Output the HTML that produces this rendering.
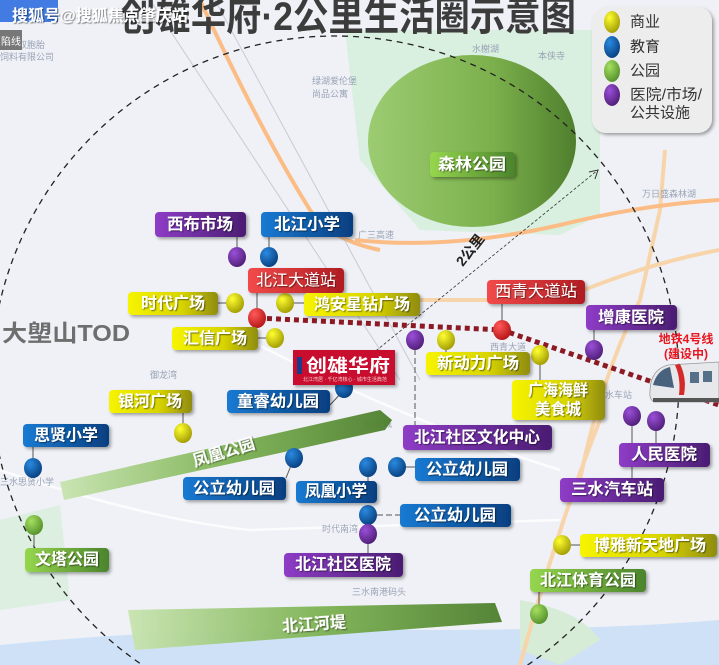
<!DOCTYPE html>
<html><head><meta charset="utf-8">
<style>
html,body{margin:0;padding:0;width:719px;height:665px;overflow:hidden;background:#eff1f6;}
svg{display:block;font-family:"Liberation Sans","Noto Sans CJK SC",sans-serif;}
.lt{fill:#fff;font-weight:bold;font-size:16px;text-anchor:middle;dominant-baseline:central;}
</style></head><body>
<svg width="719" height="665" viewBox="0 0 719 665" xmlns="http://www.w3.org/2000/svg">
<defs>
<linearGradient id="gP" x1="0" x2="1"><stop offset="0" stop-color="#8e3cc6"/><stop offset="1" stop-color="#4a1d72"/></linearGradient>
<linearGradient id="gB" x1="0" x2="1"><stop offset="0" stop-color="#1a7ad2"/><stop offset="1" stop-color="#063f80"/></linearGradient>
<linearGradient id="gY" x1="0" x2="1"><stop offset="0" stop-color="#f6f400"/><stop offset="0.6" stop-color="#d8d400"/><stop offset="1" stop-color="#8f8c12"/></linearGradient>
<linearGradient id="gG" x1="0" x2="1"><stop offset="0" stop-color="#96d64e"/><stop offset="1" stop-color="#4b842c"/></linearGradient>
<linearGradient id="gR" x1="0" x2="1"><stop offset="0" stop-color="#f24a4a"/><stop offset="1" stop-color="#b01c22"/></linearGradient>
<linearGradient id="band" x1="0" x2="1"><stop offset="0" stop-color="#c8e4b0"/><stop offset="0.5" stop-color="#7fb455"/><stop offset="1" stop-color="#4c7e2c"/></linearGradient>
<linearGradient id="forest" x1="0" x2="1"><stop offset="0" stop-color="#9ccc72"/><stop offset="0.6" stop-color="#7cb04c"/><stop offset="1" stop-color="#4f7f2e"/></linearGradient>
<radialGradient id="dP" cx="0.35" cy="0.3" r="0.8"><stop offset="0" stop-color="#9a50d8"/><stop offset="1" stop-color="#4a1a70"/></radialGradient>
<radialGradient id="dB" cx="0.35" cy="0.3" r="0.8"><stop offset="0" stop-color="#2a8ae0"/><stop offset="1" stop-color="#053a78"/></radialGradient>
<radialGradient id="dY" cx="0.35" cy="0.3" r="0.8"><stop offset="0" stop-color="#ffff30"/><stop offset="1" stop-color="#9a9400"/></radialGradient>
<radialGradient id="dG" cx="0.35" cy="0.3" r="0.8"><stop offset="0" stop-color="#a6e060"/><stop offset="1" stop-color="#4e8a28"/></radialGradient>
<radialGradient id="dR" cx="0.35" cy="0.3" r="0.8"><stop offset="0" stop-color="#ff5a5a"/><stop offset="1" stop-color="#b01010"/></radialGradient>
<filter id="sh" x="-10%" y="-20%" width="130%" height="150%"><feDropShadow dx="2" dy="2" stdDeviation="1.5" flood-color="#000" flood-opacity="0.35"/></filter>
<filter id="ts"><feDropShadow dx="1" dy="1" stdDeviation="0.6" flood-color="#000" flood-opacity="0.5"/></filter>
</defs>

<rect width="719" height="665" fill="#eff1f6"/>
<path d="M345 30 L600 30 L600 215 L560 235 L420 230 L360 160 Z" fill="#d9efdf"/>
<path d="M0 520 L60 505 L70 600 L0 610 Z" fill="#dcefe0"/>
<path d="M0 645 Q200 625 420 630 Q600 630 719 620 L719 665 L0 665 Z" fill="#cfe1f6"/>
<path d="M520 600 Q580 610 600 640 L560 665 L520 650 Z" fill="#d6ecd7"/>
<g fill="none" stroke="#f8d4aa" stroke-width="4">
<path d="M350 300 Q500 300 560 300 Q640 265 719 250"/>
<path d="M580 480 Q600 380 640 300 L660 210 L665 150"/>
<path d="M520 665 Q560 520 600 420"/>
</g>
<g fill="none" stroke="#fbbd85" stroke-width="4">
<path d="M200 0 Q260 130 310 210 Q330 240 380 250"/>
<path d="M355 240 Q450 250 560 225 Q640 205 719 200"/>
</g>
<g fill="none" stroke="#ffffff" stroke-width="2.5" opacity="0.8">
<path d="M0 470 Q150 520 250 530 L560 520"/>
<path d="M230 330 Q400 420 560 470"/>
</g>
<g fill="none" stroke="#c9c9d8" stroke-width="1">
<path d="M150 0 L400 380"/><path d="M215 0 L420 380"/>
</g>
<g font-size="9" fill="#9aa3b5">
<text x="0" y="48">广东双胞胎</text><text x="0" y="60">饲料有限公司</text>
<text x="312" y="84">绿湖爱伦堡</text><text x="312" y="97">尚品公寓</text>
<text x="472" y="52">水榭湖</text><text x="538" y="59">本侠寺</text>
<text x="642" y="197">万日盛森林湖</text><text x="358" y="238">广三高速</text>
<text x="150" y="378">御龙湾</text><text x="236" y="400">时代城-3期</text>
<text x="365" y="427">时代城</text><text x="0" y="485">三水思贤小学</text>
<text x="322" y="532">时代南湾</text><text x="352" y="595">三水南港码头</text>
<text x="605" y="398">水车站</text><text x="490" y="350">西青大道</text>
</g>
<rect x="0" y="30" width="22" height="20" fill="#777"/><text x="1" y="45" font-size="10" fill="#fff">陷线</text>
<rect x="0" y="0" width="58" height="22" fill="#2f6fe0" opacity="0.9"/>

<text x="120" y="30" font-size="40" font-weight="bold" fill="#3c3c3c" textLength="456" lengthAdjust="spacingAndGlyphs">创雄华府·2公里生活圈示意图</text>
<text x="12" y="21" font-size="16" font-weight="bold" fill="#fff" filter="url(#ts)">搜狐号@搜狐焦点肇庆站</text>

<ellipse cx="472" cy="141" rx="104" ry="86" fill="url(#forest)"/>
<circle cx="335" cy="380" r="344" fill="none" stroke="#222" stroke-width="1.3" stroke-dasharray="6,5"/>
<line x1="345" y1="376" x2="598" y2="170" stroke="#333" stroke-width="0.8" stroke-dasharray="3,2"/>
<path d="M589 172 L598 170 L595 179" fill="none" stroke="#333" stroke-width="1"/>
<text transform="translate(470,250) rotate(-52)" font-size="14" font-weight="bold" fill="#222" text-anchor="middle" dominant-baseline="central">2公里</text>

<path d="M60 482 L380 410 L392 420 L385 430 L64 500 Z" fill="url(#band)" opacity="0.95"/>
<text transform="translate(224,453) rotate(-17)" class="lt" font-size="16" filter="url(#ts)">凤凰公园</text>
<path d="M128 610 L495 603 L502 622 L135 650 Z" fill="url(#band)" opacity="0.95"/>
<text transform="translate(314,625) rotate(-4)" class="lt" font-size="16" filter="url(#ts)">北江河堤</text>

<path d="M258 318 L502 330 L719 405" fill="none" stroke="#8c1a24" stroke-width="5" stroke-dasharray="5,4"/>

<g stroke="#555" stroke-width="1" fill="none">
<path d="M237 237 V257"/><path d="M269 237 V257"/>
<path d="M257 293 V318"/><path d="M218 303 H235"/><path d="M285 303 H304"/>
<path d="M258 338 H275"/><path d="M502 304 V330"/><path d="M594 330 V350"/>
<path d="M415 349 V425" stroke-dasharray="6,3"/><path d="M446 345 V352"/><path d="M540 362 V380"/>
<path d="M330 405 L344 390"/><path d="M183 413 V433"/><path d="M33 447 V468"/>
<path d="M286 478 L294 458"/><path d="M368 475 V481"/><path d="M405 467 H415"/>
<path d="M377 515 H400" stroke-dasharray="6,3"/><path d="M368 540 V553"/>
<path d="M632 425 V478"/><path d="M656 428 V443"/>
<path d="M34 535 V548"/><path d="M570 545 H580"/><path d="M539 592 V614"/>
</g>

<g>
<ellipse cx="237" cy="257" rx="9" ry="10" fill="url(#dP)"/>
<ellipse cx="269" cy="257" rx="9" ry="10" fill="url(#dB)"/>
<ellipse cx="235" cy="303" rx="9" ry="10" fill="url(#dY)"/>
<ellipse cx="285" cy="303" rx="9" ry="10" fill="url(#dY)"/>
<ellipse cx="275" cy="338" rx="9" ry="10" fill="url(#dY)"/>
<ellipse cx="257" cy="318" rx="9" ry="10" fill="url(#dR)"/>
<ellipse cx="502" cy="330" rx="9" ry="10" fill="url(#dR)"/>
<ellipse cx="415" cy="340" rx="9" ry="10" fill="url(#dP)"/>
<ellipse cx="446" cy="340" rx="9" ry="10" fill="url(#dY)"/>
<ellipse cx="540" cy="355" rx="9" ry="10" fill="url(#dY)"/>
<ellipse cx="594" cy="350" rx="9" ry="10" fill="url(#dP)"/>
<ellipse cx="344" cy="388" rx="9" ry="10" fill="url(#dB)"/>
<ellipse cx="183" cy="433" rx="9" ry="10" fill="url(#dY)"/>
<ellipse cx="33" cy="468" rx="9" ry="10" fill="url(#dB)"/>
<ellipse cx="294" cy="458" rx="9" ry="10" fill="url(#dB)"/>
<ellipse cx="368" cy="467" rx="9" ry="10" fill="url(#dB)"/>
<ellipse cx="397" cy="467" rx="9" ry="10" fill="url(#dB)"/>
<ellipse cx="368" cy="515" rx="9" ry="10" fill="url(#dB)"/>
<ellipse cx="368" cy="534" rx="9" ry="10" fill="url(#dP)"/>
<ellipse cx="632" cy="416" rx="9" ry="10" fill="url(#dP)"/>
<ellipse cx="656" cy="421" rx="9" ry="10" fill="url(#dP)"/>
<ellipse cx="34" cy="525" rx="9" ry="10" fill="url(#dG)"/>
<ellipse cx="562" cy="545" rx="9" ry="10" fill="url(#dY)"/>
<ellipse cx="539" cy="614" rx="9" ry="10" fill="url(#dG)"/>
</g>

<g filter="url(#sh)">
<rect x="430" y="152" width="85" height="25" rx="4" fill="url(#gG)"/>
<rect x="155" y="212" width="91" height="25" rx="4" fill="url(#gP)"/>
<rect x="261" y="212" width="92" height="25" rx="4" fill="url(#gB)"/>
<rect x="248" y="268" width="96" height="25" rx="4" fill="url(#gR)"/>
<rect x="128" y="292" width="90" height="23" rx="4" fill="url(#gY)"/>
<rect x="304" y="293" width="116" height="23" rx="4" fill="url(#gY)"/>
<rect x="172" y="327" width="86" height="23" rx="4" fill="url(#gY)"/>
<rect x="487" y="280" width="98" height="24" rx="4" fill="url(#gR)"/>
<rect x="586" y="305" width="91" height="25" rx="4" fill="url(#gP)"/>
<rect x="426" y="352" width="104" height="23" rx="4" fill="url(#gY)"/>
<rect x="512" y="380" width="93" height="40" rx="4" fill="url(#gY)"/>
<rect x="227" y="390" width="103" height="23" rx="4" fill="url(#gB)"/>
<rect x="109" y="390" width="83" height="23" rx="4" fill="url(#gY)"/>
<rect x="23" y="424" width="86" height="23" rx="4" fill="url(#gB)"/>
<rect x="403" y="425" width="149" height="25" rx="4" fill="url(#gP)"/>
<rect x="619" y="443" width="91" height="24" rx="4" fill="url(#gP)"/>
<rect x="183" y="477" width="103" height="23" rx="4" fill="url(#gB)"/>
<rect x="296" y="481" width="81" height="22" rx="4" fill="url(#gB)"/>
<rect x="415" y="458" width="105" height="23" rx="4" fill="url(#gB)"/>
<rect x="560" y="478" width="104" height="24" rx="4" fill="url(#gP)"/>
<rect x="400" y="504" width="111" height="23" rx="4" fill="url(#gB)"/>
<rect x="25" y="548" width="84" height="24" rx="4" fill="url(#gG)"/>
<rect x="284" y="553" width="119" height="24" rx="4" fill="url(#gP)"/>
<rect x="580" y="534" width="137" height="23" rx="4" fill="url(#gY)"/>
<rect x="530" y="569" width="116" height="23" rx="4" fill="url(#gG)"/>
</g>
<g filter="url(#ts)">
<text class="lt" x="472" y="165" textLength="68" lengthAdjust="spacingAndGlyphs">森林公园</text>
<text class="lt" x="200" y="225" textLength="66" lengthAdjust="spacingAndGlyphs">西布市场</text>
<text class="lt" x="307" y="225" textLength="66" lengthAdjust="spacingAndGlyphs">北江小学</text>
<text class="lt" x="296" y="281" style="font-weight:normal" textLength="80" lengthAdjust="spacingAndGlyphs">北江大道站</text>
<text class="lt" x="173" y="304" textLength="64" lengthAdjust="spacingAndGlyphs">时代广场</text>
<text class="lt" x="362" y="305" textLength="96" lengthAdjust="spacingAndGlyphs">鸿安星钻广场</text>
<text class="lt" x="215" y="339" textLength="64" lengthAdjust="spacingAndGlyphs">汇信广场</text>
<text class="lt" x="536" y="292" style="font-weight:normal" textLength="82" lengthAdjust="spacingAndGlyphs">西青大道站</text>
<text class="lt" x="631" y="318" textLength="66" lengthAdjust="spacingAndGlyphs">增康医院</text>
<text class="lt" x="478" y="364" textLength="82" lengthAdjust="spacingAndGlyphs">新动力广场</text>
<text class="lt" x="558" y="391" textLength="60" lengthAdjust="spacingAndGlyphs">广海海鲜</text>
<text class="lt" x="558" y="410" textLength="46" lengthAdjust="spacingAndGlyphs">美食城</text>
<text class="lt" x="278" y="402" textLength="82" lengthAdjust="spacingAndGlyphs">童睿幼儿园</text>
<text class="lt" x="150" y="402" textLength="64" lengthAdjust="spacingAndGlyphs">银河广场</text>
<text class="lt" x="66" y="436" textLength="64" lengthAdjust="spacingAndGlyphs">思贤小学</text>
<text class="lt" x="477" y="438" textLength="126" lengthAdjust="spacingAndGlyphs">北江社区文化中心</text>
<text class="lt" x="664" y="455" textLength="66" lengthAdjust="spacingAndGlyphs">人民医院</text>
<text class="lt" x="234" y="489" textLength="82" lengthAdjust="spacingAndGlyphs">公立幼儿园</text>
<text class="lt" x="336" y="492" textLength="62" lengthAdjust="spacingAndGlyphs">凤凰小学</text>
<text class="lt" x="467" y="470" textLength="82" lengthAdjust="spacingAndGlyphs">公立幼儿园</text>
<text class="lt" x="612" y="490" textLength="82" lengthAdjust="spacingAndGlyphs">三水汽车站</text>
<text class="lt" x="455" y="516" textLength="82" lengthAdjust="spacingAndGlyphs">公立幼儿园</text>
<text class="lt" x="67" y="560" textLength="64" lengthAdjust="spacingAndGlyphs">文塔公园</text>
<text class="lt" x="343" y="565" textLength="96" lengthAdjust="spacingAndGlyphs">北江社区医院</text>
<text class="lt" x="650" y="546" textLength="112" lengthAdjust="spacingAndGlyphs">博雅新天地广场</text>
<text class="lt" x="588" y="581" textLength="96" lengthAdjust="spacingAndGlyphs">北江体育公园</text>
</g>

<rect x="293" y="350" width="102" height="35" fill="#c8102e" filter="url(#sh)"/>
<rect x="297" y="357" width="5" height="17" fill="#1a3a8a"/>
<text x="348" y="372" font-size="18" font-weight="bold" fill="#fff" text-anchor="middle" textLength="84" lengthAdjust="spacingAndGlyphs">创雄华府</text>
<text x="345" y="381" font-size="5" fill="#f5d0d0" text-anchor="middle">北江湾居 · 千亿湾核心 · 城市生活典范</text>

<text x="2" y="341" font-size="23" font-weight="bold" fill="#6e6e6e" textLength="128" lengthAdjust="spacingAndGlyphs">大塱山TOD</text>

<text x="686" y="343" font-size="12" font-weight="bold" fill="#e8141e" text-anchor="middle">地铁4号线</text>
<text x="686" y="358" font-size="12" font-weight="bold" fill="#e8141e" text-anchor="middle">(建设中)</text>
<g>
<path d="M650 392 Q650 370 668 365 L719 362 L719 402 L654 402 Q649 399 650 392 Z" fill="#e6e8ec" stroke="#999" stroke-width="0.8"/>
<path d="M653 385 Q657 370 670 367 L674 388 Z" fill="#48627e"/>
<path d="M675 365 Q681 378 679 395 L684 395 Q687 378 680 364 Z" fill="#d52a2a"/>
<rect x="690" y="372" width="9" height="11" fill="#56708a"/><rect x="703" y="371" width="9" height="11" fill="#56708a"/>
<rect x="653" y="398" width="66" height="4" fill="#555"/>
</g>

<rect x="592" y="7" width="120" height="126" rx="14" fill="#ededed" filter="url(#sh)"/>
<ellipse cx="612" cy="22" rx="8" ry="11" fill="url(#dY)"/>
<ellipse cx="612" cy="47" rx="8" ry="11" fill="url(#dB)"/>
<ellipse cx="612" cy="71" rx="8" ry="11" fill="url(#dG)"/>
<ellipse cx="612" cy="95" rx="8" ry="11" fill="url(#dP)"/>
<g font-size="15" fill="#333" dominant-baseline="central">
<text x="630" y="22">商业</text>
<text x="630" y="47">教育</text>
<text x="630" y="71">公园</text>
<text x="630" y="95" textLength="72" lengthAdjust="spacingAndGlyphs">医院/市场/</text>
<text x="630" y="113">公共设施</text>
</g>
</svg>
</body></html>
